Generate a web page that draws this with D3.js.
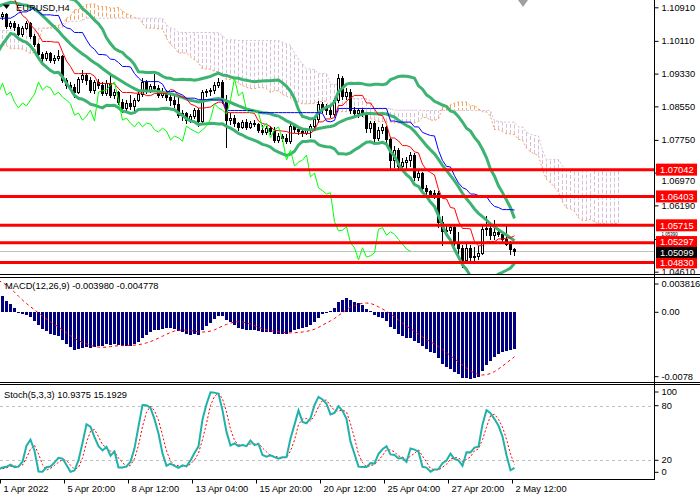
<!DOCTYPE html>
<html>
<head>
<meta charset="utf-8">
<title>EURUSD,H4</title>
<script src="https://cdn.jsdelivr.net/npm/d3@7"></script>
<style>
body { margin: 0; background: #fff; }
svg text { font-family: "Liberation Sans", Arial, sans-serif; font-size: 9.3px; fill: #000; }
</style>
</head>
<body>
<script>
// H4 bars from 1 Apr 2022 04:00 to 2 May 2022 12:00
var opens = [1.1070,1.1075,1.1046,1.1054,1.1044,1.1027,1.1042,1.1054,1.1023,1.1004,
  1.0979,1.0970,1.0982,1.0965,1.0970,1.0975,1.0918,1.0906,1.0901,1.0889,
  1.0920,1.0930,1.0918,1.0894,1.0913,1.0906,1.0887,1.0910,1.0882,1.0889,
  1.0865,1.0851,1.0863,1.0856,1.0870,1.0884,1.0913,1.0894,1.0903,1.0899,
  1.0882,1.0889,1.0877,1.0870,1.0861,1.0834,1.0839,1.0822,1.0832,1.0846,
  1.0820,1.0889,1.0892,1.0894,1.0906,1.0913,1.0870,1.0822,1.0827,1.0815,
  1.0806,1.0818,1.0806,1.0815,1.0813,1.0799,1.0794,1.0803,1.0796,1.0775,
  1.0784,1.0780,1.0772,1.0808,1.0801,1.0796,1.0791,1.0799,1.0808,1.0825,
  1.0861,1.0851,1.0846,1.0837,1.0870,1.0922,1.0880,1.0889,1.0846,1.0839,
  1.0846,1.0839,1.0803,1.0815,1.0780,1.0799,1.0806,1.0777,1.0727,1.0751,
  1.0713,1.0722,1.0727,1.0739,1.0687,1.0696,1.0661,1.0654,1.0646,1.0649,
  1.0580,1.0558,1.0560,1.0568,1.0530,1.0518,1.0489,1.0518,1.0496,1.0499,
  1.0506,1.0562,1.0566,1.0548,1.0556,1.0550,1.0538,1.0527,1.0515];
var highs = [1.1080,1.1077,1.1058,1.1058,1.1051,1.1046,1.1058,1.1056,1.1027,1.1006,
  1.0984,1.0987,1.0984,1.0977,1.0989,1.0977,1.0922,1.0913,1.0908,1.0925,
  1.0942,1.0934,1.0925,1.0918,1.0920,1.0913,1.0918,1.0934,1.0896,1.0892,
  1.0872,1.0870,1.0882,1.0875,1.0889,1.0922,1.0918,1.0908,1.0932,1.0906,
  1.0899,1.0894,1.0884,1.0880,1.0877,1.0846,1.0842,1.0837,1.0851,1.0851,
  1.0894,1.0896,1.0899,1.0913,1.0922,1.0918,1.0882,1.0839,1.0834,1.0818,
  1.0822,1.0825,1.0820,1.0822,1.0815,1.0811,1.0808,1.0808,1.0806,1.0791,
  1.0789,1.0789,1.0813,1.0813,1.0808,1.0803,1.0803,1.0813,1.0830,1.0868,
  1.0865,1.0861,1.0861,1.0875,1.0932,1.0927,1.0899,1.0896,1.0854,1.0851,
  1.0851,1.0842,1.0820,1.0820,1.0806,1.0813,1.0808,1.0780,1.0761,1.0756,
  1.0732,1.0734,1.0746,1.0744,1.0703,1.0699,1.0668,1.0656,1.0656,1.0654,
  1.0594,1.0573,1.0573,1.0573,1.0556,1.0525,1.0530,1.0525,1.0520,1.0523,
  1.0575,1.0593,1.0580,1.0584,1.0565,1.0558,1.0573,1.0535,1.0518];
var lows = [1.1063,1.1042,1.1042,1.1037,1.1025,1.1023,1.1039,1.1018,1.0999,1.0975,
  1.0961,1.0965,1.0961,1.0958,1.0965,1.0913,1.0899,1.0894,1.0877,1.0887,
  1.0913,1.0908,1.0889,1.0887,1.0899,1.0882,1.0882,1.0877,1.0875,1.0861,
  1.0842,1.0846,1.0849,1.0839,1.0868,1.0880,1.0887,1.0889,1.0894,1.0877,
  1.0877,1.0870,1.0858,1.0854,1.0830,1.0822,1.0815,1.0818,1.0827,1.0808,
  1.0815,1.0880,1.0882,1.0887,1.0901,1.0863,1.0758,1.0813,1.0808,1.0799,
  1.0803,1.0801,1.0803,1.0808,1.0794,1.0789,1.0789,1.0789,1.0770,1.0770,
  1.0772,1.0768,1.0768,1.0794,1.0789,1.0784,1.0789,1.0782,1.0803,1.0818,
  1.0842,1.0837,1.0830,1.0832,1.0865,1.0872,1.0872,1.0839,1.0830,1.0830,
  1.0832,1.0794,1.0794,1.0770,1.0775,1.0791,1.0770,1.0708,1.0710,1.0703,
  1.0710,1.0706,1.0713,1.0680,1.0680,1.0654,1.0646,1.0639,1.0637,1.0568,
  1.0525,1.0551,1.0554,1.0525,1.0494,1.0472,1.0485,1.0485,1.0489,1.0491,
  1.0502,1.0548,1.0540,1.0540,1.0545,1.0535,1.0525,1.0502,1.0500];
var closes = [1.1075,1.1046,1.1054,1.1044,1.1027,1.1042,1.1054,1.1023,1.1004,1.0979,
  1.0970,1.0982,1.0965,1.0970,1.0975,1.0918,1.0906,1.0901,1.0889,1.0920,
  1.0930,1.0918,1.0894,1.0913,1.0906,1.0887,1.0910,1.0882,1.0889,1.0865,
  1.0851,1.0863,1.0856,1.0870,1.0884,1.0913,1.0894,1.0903,1.0899,1.0882,
  1.0889,1.0877,1.0870,1.0861,1.0834,1.0839,1.0822,1.0832,1.0846,1.0820,
  1.0889,1.0892,1.0894,1.0906,1.0913,1.0870,1.0822,1.0827,1.0815,1.0806,
  1.0818,1.0806,1.0815,1.0813,1.0799,1.0794,1.0803,1.0796,1.0775,1.0784,
  1.0780,1.0772,1.0808,1.0801,1.0796,1.0791,1.0799,1.0808,1.0825,1.0861,
  1.0851,1.0846,1.0837,1.0870,1.0922,1.0880,1.0889,1.0846,1.0839,1.0846,
  1.0839,1.0803,1.0815,1.0780,1.0799,1.0806,1.0777,1.0727,1.0751,1.0713,
  1.0722,1.0727,1.0739,1.0687,1.0696,1.0661,1.0654,1.0646,1.0649,1.0580,
  1.0558,1.0560,1.0568,1.0530,1.0518,1.0489,1.0518,1.0496,1.0499,1.0506,
  1.0562,1.0566,1.0548,1.0556,1.0550,1.0538,1.0527,1.0515,1.05099];

// earlier bars (15 Mar 04:00 .. 1 Apr 00:00), off screen, feed the indicators
var preHigh = [1.0975,1.0990,1.1000,1.0985,1.0970,
  1.0965,1.0995,1.1010,1.1020,1.1005,1.1040, 1.1050,1.1075,1.1100,1.1137,1.1125,1.1110,
  1.1100,1.1090,1.1065,1.1055,1.1060,1.1060, 1.1065,1.1070,1.1060,1.1045,1.1040,1.1025,
  1.1020,1.1030,1.1045,1.1040,1.1035,1.1035, 1.1035,1.1025,1.1020,1.1010,1.1000,1.1000,
  1.1005,1.1010,1.1010,1.1000,1.1005,1.1000, 1.1000,1.1025,1.1035,1.1020,1.1000,1.0990,
  1.0990,1.0985,1.0975,1.0990,1.1000,1.0995, 1.0995,1.1010,1.1070,1.1137,1.1100,1.1095,
  1.1095,1.1115,1.1140,1.1165,1.1170,1.1165, 1.1165,1.1175,1.1185,1.1150,1.1120,1.1105,
  1.1080];
var preLow = [1.0935,1.0945,1.0955,1.0935,1.0940,
  1.0945,1.0955,1.0980,1.0985,1.0960,1.0950, 1.1020,1.1035,1.1055,1.1080,1.1085,1.1085,
  1.1070,1.1045,1.1030,1.1005,1.1010,1.1035, 1.1035,1.1040,1.1020,1.1010,1.0995,1.1005,
  1.1000,1.1000,1.1010,1.1000,1.0995,1.1015, 1.1015,1.0995,1.0990,1.0965,1.0960,1.0980,
  1.0985,1.0980,1.0975,1.0965,1.0975,1.0985, 1.0980,1.0985,1.1005,1.0975,1.0965,1.0970,
  1.0960,1.0945,1.0945,1.0955,1.0970,1.0975, 1.0975,1.0985,1.0995,1.1055,1.1060,1.1070,
  1.1075,1.1080,1.1095,1.1120,1.1135,1.1145, 1.1140,1.1135,1.1130,1.1095,1.1080,1.1060,
  1.1055];
var preClose = [1.0950,1.0980,1.0965,1.0950,1.0955,
  1.0960,1.0990,1.1000,1.0995,1.0975,1.1030, 1.1040,1.1065,1.1090,1.1110,1.1100,1.1095,
  1.1080,1.1055,1.1040,1.1020,1.1045,1.1050, 1.1050,1.1055,1.1030,1.1030,1.1015,1.1015,
  1.1010,1.1020,1.1035,1.1010,1.1025,1.1030, 1.1020,1.1005,1.1000,1.0975,1.0990,1.0995,
  1.0995,1.1000,1.0985,1.0990,1.0995,1.0995, 1.0990,1.1015,1.1010,1.0985,1.0980,1.0985,
  1.0975,1.0955,1.0965,1.0980,1.0985,1.0985, 1.0990,1.1000,1.1060,1.1085,1.1080,1.1085,
  1.1090,1.1105,1.1130,1.1150,1.1155,1.1158, 1.1150,1.1160,1.1140,1.1105,1.1095,1.1067,
  1.1070];

var timeTickBars = [0, 16, 32, 48, 64, 80, 96, 112, 128];
var timeLabels = ["1 Apr 2022", "5 Apr 20:00", "8 Apr 12:00", "13 Apr 04:00", "15 Apr 20:00",
  "20 Apr 12:00", "25 Apr 04:00", "27 Apr 20:00", "2 May 12:00"];
var priceTicks = [1.10910, 1.10110, 1.09330, 1.08550, 1.07750, 1.06970, 1.06190, 1.05390, 1.04610];
var levels = [1.07042, 1.06403, 1.05715, 1.05297, 1.04830];
var lastPrice = 1.05099;
var macdTicks = [0.003816, 0, -0.0078];
var macdTickText = ["0.003816", "0.00", "-0.0078"];
var stochTicks = [100, 80, 20, 0];
var macdTitle = "MACD(12,26,9) -0.003980 -0.004778";
var stochTitle = "Stoch(5,3,3) 10.9375 15.1929";

// ---- indicators ----
var nPre = preClose.length;
var fH = preHigh.concat(highs), fL = preLow.concat(lows), fC = preClose.concat(closes);
var N = fC.length, n = closes.length;

function hiOf(k, len) { return d3.max(fH.slice(Math.max(0, k - len + 1), k + 1)); }
function loOf(k, len) { return d3.min(fL.slice(Math.max(0, k - len + 1), k + 1)); }

var tenkan = d3.range(N).map(function(k) { return (hiOf(k, 9) + loOf(k, 9)) / 2; });
var kijun = d3.range(N).map(function(k) { return (hiOf(k, 26) + loOf(k, 26)) / 2; });
var spanA = d3.range(N).map(function(k) { return (tenkan[k] + kijun[k]) / 2; });
var spanB = d3.range(N).map(function(k) { return (hiOf(k, 52) + loOf(k, 52)) / 2; });

var bbMid = [], bbUp = [], bbLo = [];
for (var k = 0; k < N; k++) {
  if (k < 19) { bbMid.push(null); bbUp.push(null); bbLo.push(null); continue; }
  var win = fC.slice(k - 19, k + 1), m = d3.mean(win);
  var sd = Math.sqrt(d3.mean(win, function(v) { return (v - m) * (v - m); }));
  bbMid.push(m); bbUp.push(m + 2 * sd); bbLo.push(m - 2 * sd);
}

function ema(arr, p) {
  var a = 2 / (p + 1), out = [arr[0]];
  for (var j = 1; j < arr.length; j++) out.push(a * arr[j] + (1 - a) * out[j - 1]);
  return out;
}
var e12 = ema(fC, 12), e26 = ema(fC, 26);
var macd = fC.map(function(v, j) { return e12[j] - e26[j]; });
var signal = macd.map(function(v, j) { return j < 8 ? null : d3.mean(macd.slice(j - 8, j + 1)); });

var stK = [], stD = [];
for (var k = 0; k < N; k++) {
  if (k < 6) { stK.push(null); continue; }
  var num = 0, den = 0;
  for (var j = k - 2; j <= k; j++) { var lo = loOf(j, 5), hi = hiOf(j, 5); num += fC[j] - lo; den += hi - lo; }
  stK.push(den ? 100 * num / den : 50);
}
for (var k = 0; k < N; k++) stD.push(k < 8 ? null : d3.mean(stK.slice(k - 2, k + 1)));

// ---- chart ----
var svg = d3.select("body").append("svg").attr("width", 700).attr("height", 500);

var x = d3.scaleLinear().domain([0, 128]).range([2.5, 514.5]);
var xTick = d3.scaleLinear().domain([0, 128]).range([0, 512]);
var y = d3.scaleLinear().domain([1.04610, 1.10910]).range([271.7, 7.3]);
var yM = d3.scaleLinear().domain([-0.00776, 0.003816]).range([382, 278]);
var yS = d3.scaleLinear().domain([0, 100]).range([478.5, 387.5]);

var defs = svg.append("defs");
defs.append("clipPath").attr("id", "cMain").append("rect").attr("x", 0).attr("y", 0).attr("width", 654).attr("height", 274);
defs.append("clipPath").attr("id", "cMacd").append("rect").attr("x", 0).attr("y", 278).attr("width", 654).attr("height", 104);
defs.append("clipPath").attr("id", "cSto").append("rect").attr("x", 0).attr("y", 385).attr("width", 654).attr("height", 94);

var main = svg.append("g").attr("clip-path", "url(#cMain)");

function lineOf(arr, sc, shift) {
  return d3.line()
    .defined(function(i) { var v = arr[i + nPre + shift]; return v != null && isFinite(v); })
    .x(function(i) { return x(i); })
    .y(function(i) { return sc(arr[i + nPre + shift]); });
}

// Ichimoku cloud (shifted 26 bars forward)
var cloudIdx = d3.range(-1, n + 26);
main.selectAll("line.hatch").data(cloudIdx).enter().append("line")
  .attr("class", "hatch")
  .attr("x1", function(i) { return x(i); }).attr("x2", function(i) { return x(i); })
  .attr("y1", function(i) { return y(spanA[i + nPre - 26]); })
  .attr("y2", function(i) { return y(spanB[i + nPre - 26]); })
  .attr("stroke", function(i) { return spanA[i + nPre - 26] > spanB[i + nPre - 26] ? "#F4A460" : "#D8BFD8"; })
  .attr("stroke-width", 1).attr("stroke-dasharray", "4,2");
main.append("path").attr("d", lineOf(spanA, y, -26)(cloudIdx))
  .attr("fill", "none").attr("stroke", "#F4A460").attr("stroke-width", 1).attr("stroke-dasharray", "2,2");
main.append("path").attr("d", lineOf(spanB, y, -26)(cloudIdx))
  .attr("fill", "none").attr("stroke", "#D8BFD8").attr("stroke-width", 1).attr("stroke-dasharray", "2,2");

// current price line
main.append("line").attr("x1", 0).attr("x2", 654)
  .attr("y1", Math.round(y(lastPrice)) + 0.5).attr("y2", Math.round(y(lastPrice)) + 0.5)
  .attr("stroke", "#C0C0C0").attr("stroke-width", 1);

// candles
var bars = d3.range(n);
main.selectAll("line.wick").data(bars).enter().append("line")
  .attr("class", "wick")
  .attr("x1", function(i) { return x(i); }).attr("x2", function(i) { return x(i); })
  .attr("y1", function(i) { return Math.round(y(highs[i])); })
  .attr("y2", function(i) { return Math.round(y(lows[i])) + 1; })
  .attr("stroke", "#000").attr("stroke-width", 1);
main.selectAll("rect.body").data(bars).enter().append("rect")
  .attr("class", "body")
  .attr("shape-rendering", "crispEdges")
  .attr("x", function(i) { return closes[i] >= opens[i] ? x(i) - 1 : x(i) - 1.5; })
  .attr("width", function(i) { return closes[i] >= opens[i] ? 2 : 3; })
  .attr("y", function(i) { return Math.round(y(Math.max(opens[i], closes[i]))) + (closes[i] >= opens[i] ? 0.5 : 0); })
  .attr("height", function(i) {
    var h = Math.round(y(Math.min(opens[i], closes[i]))) - Math.round(y(Math.max(opens[i], closes[i])));
    return Math.max(closes[i] >= opens[i] ? h : h + 1, 1);
  })
  .attr("fill", function(i) { return closes[i] >= opens[i] ? "#fff" : "#000"; })
  .attr("stroke", function(i) { return closes[i] >= opens[i] ? "#000" : "none"; })
  .attr("stroke-width", 1);

// Bollinger bands
var lineIdx = d3.range(-1, n);
[bbUp, bbMid, bbLo].forEach(function(arr) {
  main.append("path").attr("d", lineOf(arr, y, 0)(lineIdx))
    .attr("fill", "none").attr("stroke", "#3CB371").attr("stroke-width", 3);
});
// Ichimoku lines
main.append("path").attr("d", lineOf(tenkan, y, 0)(lineIdx)).attr("fill", "none").attr("stroke", "#FF0000").attr("stroke-width", 1);
main.append("path").attr("d", lineOf(kijun, y, 0)(lineIdx)).attr("fill", "none").attr("stroke", "#0000FF").attr("stroke-width", 1);
main.append("path").attr("d", lineOf(fC, y, 26)(d3.range(-1, n - 26))).attr("fill", "none").attr("stroke", "#00FF00").attr("stroke-width", 1);

// horizontal levels
main.selectAll("line.level").data(levels).enter().append("line")
  .attr("class", "level")
  .attr("x1", 0).attr("x2", 654)
  .attr("y1", function(d) { return y(d); }).attr("y2", function(d) { return y(d); })
  .attr("stroke", "#FF0000").attr("stroke-width", 3);

// MACD
var mg = svg.append("g").attr("clip-path", "url(#cMacd)");
mg.selectAll("rect").data(bars).enter().append("rect")
  .attr("shape-rendering", "crispEdges")
  .attr("x", function(i) { return x(i) - 1.5; }).attr("width", 3)
  .attr("y", function(i) { return Math.min(yM(0), yM(macd[i + nPre])); })
  .attr("height", function(i) { return Math.max(1, Math.abs(yM(macd[i + nPre]) - yM(0))); })
  .attr("fill", "#000080");
mg.append("path").attr("d", lineOf(signal, yM, 0)(lineIdx))
  .attr("fill", "none").attr("stroke", "#FF0000").attr("stroke-width", 1).attr("stroke-dasharray", "3,3");

// Stochastic
var sg = svg.append("g").attr("clip-path", "url(#cSto)");
[80, 20].forEach(function(v) {
  sg.append("line").attr("x1", 0).attr("x2", 654)
    .attr("y1", Math.round(yS(v)) + 0.5).attr("y2", Math.round(yS(v)) + 0.5)
    .attr("stroke", "#C0C0C0").attr("stroke-width", 1).attr("stroke-dasharray", "3,3");
});
sg.append("path").attr("d", lineOf(stD, yS, 0)(lineIdx))
  .attr("fill", "none").attr("stroke", "#FF0000").attr("stroke-width", 1).attr("stroke-dasharray", "2,2");
sg.append("path").attr("d", lineOf(stK, yS, 0)(lineIdx))
  .attr("fill", "none").attr("stroke", "#20B2AA").attr("stroke-width", 2);

// frames
var fr = svg.append("g").attr("stroke", "#000").attr("stroke-width", 1);
[274.5, 277.5, 382.5, 384.5].forEach(function(v) {
  fr.append("line").attr("x1", 0).attr("x2", 700).attr("y1", v).attr("y2", v);
});
fr.append("line").attr("x1", 0).attr("x2", 655).attr("y1", 479.5).attr("y2", 479.5);
fr.append("line").attr("x1", 654.5).attr("x2", 654.5).attr("y1", 0).attr("y2", 480);

// price axis; the two ticks that sit under level labels are nudged / shrunk
svg.append("g").attr("transform", "translate(654.5,0)")
  .call(d3.axisRight(y).tickValues(priceTicks).tickSize(4).tickPadding(3)
    .tickFormat(function(d) { return d.toFixed(5); }))
  .call(function(g) {
    g.select(".domain").remove();
    g.selectAll(".tick text").filter(function(d) { return d === 1.06970; })
      .attr("transform", "translate(0,7.5)");
    g.selectAll(".tick text").filter(function(d) { return d === 1.05390; })
      .style("font-size", "4.5px").attr("transform", "translate(0,-4.6)");
  });

// level labels
var lab = svg.append("g");
levels.forEach(function(v) {
  var yc = y(v) + (v === 1.05297 ? -0.8 : 0);
  lab.append("rect").attr("x", 656).attr("y", yc - 6).attr("width", 41).attr("height", 12).attr("fill", "#FF0000");
  lab.append("text").attr("x", 660).attr("y", yc + 3.3).style("fill", "#fff").text(v.toFixed(5));
});
var yl = y(lastPrice) + 1.2;
lab.append("rect").attr("x", 656).attr("y", yl - 5.5).attr("width", 41).attr("height", 11).attr("fill", "#000");
lab.append("text").attr("x", 660).attr("y", yl + 3.3).style("fill", "#fff").text(lastPrice.toFixed(5));

// MACD axis
svg.append("g").attr("transform", "translate(654.5,0)")
  .call(d3.axisRight(yM).tickValues(macdTicks).tickSize(4).tickPadding(3)
    .tickFormat(function(d, i) { return macdTickText[i]; }))
  .call(function(g) {
    g.select(".domain").remove();
    g.selectAll(".tick").attr("transform", function(d, i) {
      var p = yM(d); if (i === 0) p = 284; if (i === macdTicks.length - 1) p = 376.7;
      return "translate(0," + p + ")";
    });
  });

// Stochastic axis
svg.append("g").attr("transform", "translate(654.5,0)")
  .call(d3.axisRight(yS).tickValues(stochTicks).tickSize(4).tickPadding(3))
  .call(function(g) {
    g.select(".domain").remove();
    g.selectAll(".tick").attr("transform", function(d) {
      var p = yS(d); if (d === 100) p = 392; if (d === 0) p = 472.3;
      return "translate(0," + p + ")";
    });
  });

// time axis
svg.append("g").attr("transform", "translate(0,479.5)")
  .call(d3.axisBottom(xTick).tickValues(timeTickBars).tickSize(4).tickPadding(2)
    .tickFormat(function(d, i) { return timeLabels[i]; }))
  .call(function(g) {
    g.select(".domain").remove();
    g.selectAll("text").attr("text-anchor", "start").attr("x", 3);
  });

// titles
svg.append("path").attr("d", "M3,4.5L10,4.5L6.5,9Z").attr("fill", "#000");
svg.append("text").attr("x", 16).attr("y", 11).text("EURUSD,H4");
svg.append("text").attr("x", 5).attr("y", 289).text(macdTitle);
svg.append("text").attr("x", 4).attr("y", 398).text(stochTitle);
svg.append("path").attr("d", "M518,0L528,0L523,7Z").attr("fill", "#A0A0A0");
</script>
</body>
</html>
